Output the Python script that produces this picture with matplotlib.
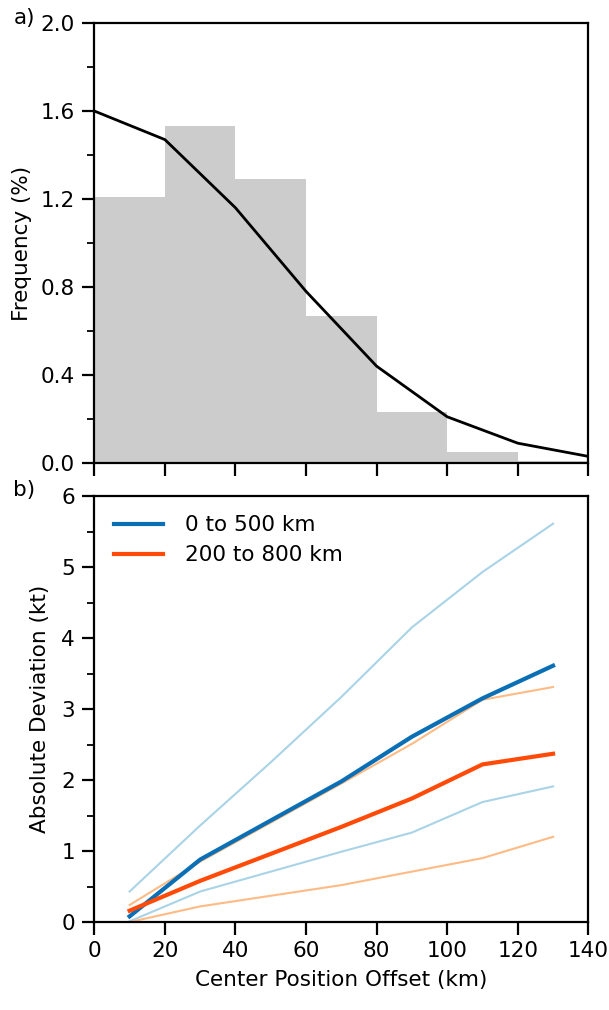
import matplotlib
matplotlib.use("Agg")
import matplotlib.pyplot as plt
import numpy as np
from matplotlib.ticker import MultipleLocator

# ---- Data: panel a ----
bin_left = [0, 20, 40, 60, 80, 100, 120]
bin_freq = [1.21, 1.53, 1.29, 0.67, 0.23, 0.05, 0.01]
curve_x = [0, 20, 40, 60, 80, 100, 120, 140]
curve_y = [1.60, 1.47, 1.16, 0.78, 0.44, 0.21, 0.09, 0.03]

# ---- Data: panel b ----
offset = [10, 30, 50, 70, 90, 110, 130]
mean_0_500 = [0.08, 0.88, 1.43, 1.98, 2.61, 3.15, 3.61]
upper_0_500 = [0.43, 1.36, 2.25, 3.17, 4.15, 4.93, 5.61]
lower_0_500 = [0.01, 0.43, 0.71, 0.99, 1.26, 1.69, 1.91]
mean_200_800 = [0.16, 0.58, 0.96, 1.34, 1.74, 2.22, 2.37]
upper_200_800 = [0.24, 0.85, 1.40, 1.95, 2.51, 3.13, 3.31]
lower_200_800 = [0.00, 0.22, 0.37, 0.52, 0.71, 0.90, 1.20]

FS = 15.5
plt.rcParams['font.family'] = ['DejaVu Sans']
plt.rcParams['font.size'] = FS

fig = plt.figure(figsize=(6.09, 10.10), dpi=100)
ax1 = fig.add_axes([0.1549, 0.5416, 0.8112, 0.4356])
ax2 = fig.add_axes([0.1549, 0.0871, 0.8112, 0.4218])

# Panel a
ax1.bar(bin_left, bin_freq, width=20, align='edge', color='#cccccc', linewidth=0)
ax1.plot(curve_x, curve_y, color='black', lw=2.0)
ax1.set_xlim(0, 140)
ax1.set_ylim(0, 2.0)
ax1.set_yticks([0.0, 0.4, 0.8, 1.2, 1.6, 2.0])
ax1.yaxis.set_minor_locator(MultipleLocator(0.2))
ax1.set_xticks(np.arange(0, 141, 20))
ax1.set_xticklabels([])
ax1.set_ylabel('Frequency (%)', fontsize=FS, labelpad=6)

# Panel b
lb = '#a9d3e6'
lo = '#ffbb85'
ax2.plot(offset, upper_0_500, color=lb, lw=1.5)
ax2.plot(offset, lower_0_500, color=lb, lw=1.5)
ax2.plot(offset, upper_200_800, color=lo, lw=1.5)
ax2.plot(offset, lower_200_800, color=lo, lw=1.5)
ax2.plot(offset, mean_0_500, color='#0a6fb4', lw=3.0, label='0 to 500 km')
ax2.plot(offset, mean_200_800, color='#ff4a08', lw=3.0, label='200 to 800 km')
ax2.set_xlim(0, 140)
ax2.set_ylim(0, 6)
ax2.set_yticks([0, 1, 2, 3, 4, 5, 6])
ax2.yaxis.set_minor_locator(MultipleLocator(0.5))
ax2.set_xticks(np.arange(0, 141, 20))
ax2.set_xlabel('Center Position Offset (km)', fontsize=FS, labelpad=6)
ax2.set_ylabel('Absolute Deviation (kt)', fontsize=FS, labelpad=8)
ax2.legend(loc='upper left', frameon=False, fontsize=FS, handlelength=2.3,
           borderaxespad=0.5, labelspacing=0.45, handletextpad=1.0)

for ax in (ax1, ax2):
    for s in ax.spines.values():
        s.set_linewidth(1.6)
    ax.tick_params(which='major', length=9, width=1.6, labelsize=FS, pad=5)
    ax.tick_params(which='minor', length=5, width=1.3)

fig.text(0.022, 0.982, 'a)', fontsize=FS, va='center', ha='left')
fig.text(0.022, 0.515, 'b)', fontsize=FS, va='center', ha='left')

fig.savefig('out.png', dpi=100)
